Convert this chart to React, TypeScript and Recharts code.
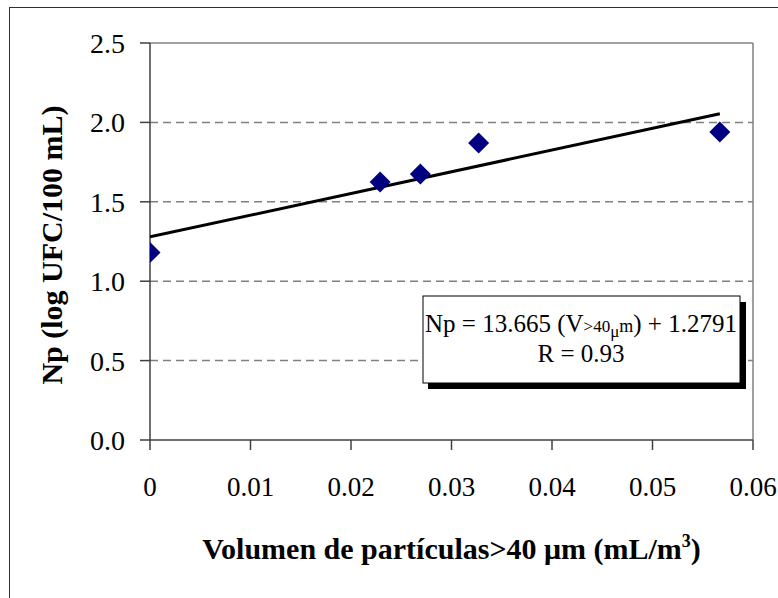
import React from "react";
import { ScatterChart, Scatter, XAxis, YAxis, CartesianGrid, ReferenceLine } from "recharts";

const xValues = [0, 0.0229, 0.0269, 0.0327, 0.0567];
const yValues = [1.18, 1.625, 1.675, 1.87, 1.94];
const trendX = [0, 0.0567];
const trendY = [1.279, 2.054];
const xTicks = [0, 0.01, 0.02, 0.03, 0.04, 0.05, 0.06];
const yTicks = [0, 0.5, 1.0, 1.5, 2.0, 2.5];
const gridValues = [0.5, 1.0, 1.5, 2.0];

const points = xValues.map((x, i) => ({ x, y: yValues[i] }));
const trend = trendX.map((x, i) => ({ x, y: trendY[i] }));

const FONT = "Liberation Serif, Times New Roman, serif";

const Diamond = (props: any) => {
  const { cx, cy } = props;
  const r = 10.5;
  return (
    <path
      d={`M${cx},${cy - r} L${cx + r},${cy} L${cx},${cy + r} L${cx - r},${cy} Z`}
      fill="#000080"
      stroke="none"
    />
  );
};

const NoShape = () => <g />;

const XTitle = (props: any) => {
  const vb = props.viewBox || { x: 150, y: 440, width: 603, height: 158 };
  const cx = vb.x + vb.width / 2;
  return (
    <text x={cx} y={559} textAnchor="middle" style={{ fontFamily: FONT }} fontWeight="bold" fontSize={30} fill="#000">
      Volumen de partículas&gt;40 μm (mL/m
      <tspan fontSize={18} dy={-12}>3</tspan>
      <tspan dy={12}>)</tspan>
    </text>
  );
};

const YTitle = () => {
  const cy = 245;
  const cx = 62;
  return (
    <text
      x={cx}
      y={cy}
      textAnchor="middle"
      transform={`rotate(-90 ${cx} ${cy})`}
      style={{ fontFamily: FONT }}
      fontWeight="bold"
      fontSize={30}
      fill="#000"
    >
      Np (log UFC/100 mL)
    </text>
  );
};

export default function App() {
  return (
    <div style={{ position: "absolute", left: 0, top: 0, width: 778, height: 598, overflow: "hidden", background: "#fff" }}>
      <div
        style={{
          position: "absolute",
          left: 9,
          top: 7,
          width: 800,
          height: 700,
          border: "1.5px solid #303030",
          boxSizing: "border-box",
        }}
      />
      <div style={{ position: "absolute", left: 0, top: 0 }}>
        <ScatterChart width={778} height={598} margin={{ top: 43, right: 25, bottom: 0, left: 0 }}>
          <CartesianGrid
            horizontal={true}
            vertical={false}
            horizontalValues={gridValues}
            stroke="#808080"
            strokeWidth={1.5}
            strokeDasharray="8 5"
          />
          <ReferenceLine y={2.5} stroke="#808080" strokeWidth={1.5} />
          <ReferenceLine x={0.06} stroke="#808080" strokeWidth={1.5} />
          <XAxis
            type="number"
            dataKey="x"
            domain={[0, 0.06]}
            ticks={xTicks}
            allowDataOverflow
            height={158}
            tickSize={10}
            tickMargin={27}
            stroke="#404040"
            strokeWidth={1.5}
            tick={{ fill: "#000", fontSize: 27, fontFamily: FONT }}
            tickFormatter={(v: number) => (v === 0 ? "0" : String(Math.round(v * 100) / 100))}
            label={{ content: (p: any) => <XTitle {...p} /> }}
          />
          <YAxis
            type="number"
            dataKey="y"
            domain={[0, 2.5]}
            ticks={yTicks}
            allowDataOverflow
            width={150}
            tickSize={10}
            tickMargin={15}
            stroke="#404040"
            strokeWidth={1.5}
            tick={{ fill: "#000", fontSize: 28, fontFamily: FONT }}
            tickFormatter={(v: number) => v.toFixed(1)}
            label={{ content: () => <YTitle /> }}
          />
          <Scatter
            data={trend}
            line={{ stroke: "#000", strokeWidth: 3 }}
            shape={NoShape}
            isAnimationActive={false}
          />
          <Scatter data={points} shape={Diamond} isAnimationActive={false} />
        </ScatterChart>
      </div>
      <svg
        width={778}
        height={598}
        style={{ position: "absolute", left: 0, top: 0, pointerEvents: "none", fontFamily: FONT }}
      >
        <rect x={428} y={302} width={318} height={87} fill="#000" />
        <rect x={423} y={296} width={317} height={87} fill="#fff" stroke="#000" strokeWidth={1} />
        <text x={581} y={332} textAnchor="middle" fontSize={25} fill="#000">
          Np = 13.665 (V
          <tspan fontSize={17}>&gt;40</tspan>
          <tspan fontSize={17} dy={5}>μ</tspan>
          <tspan fontSize={18} dy={-5}>m</tspan>
          <tspan>) + 1.2791</tspan>
        </text>
        <text x={581} y={362} textAnchor="middle" fontSize={25} fill="#000">
          R = 0.93
        </text>
      </svg>
    </div>
  );
}
